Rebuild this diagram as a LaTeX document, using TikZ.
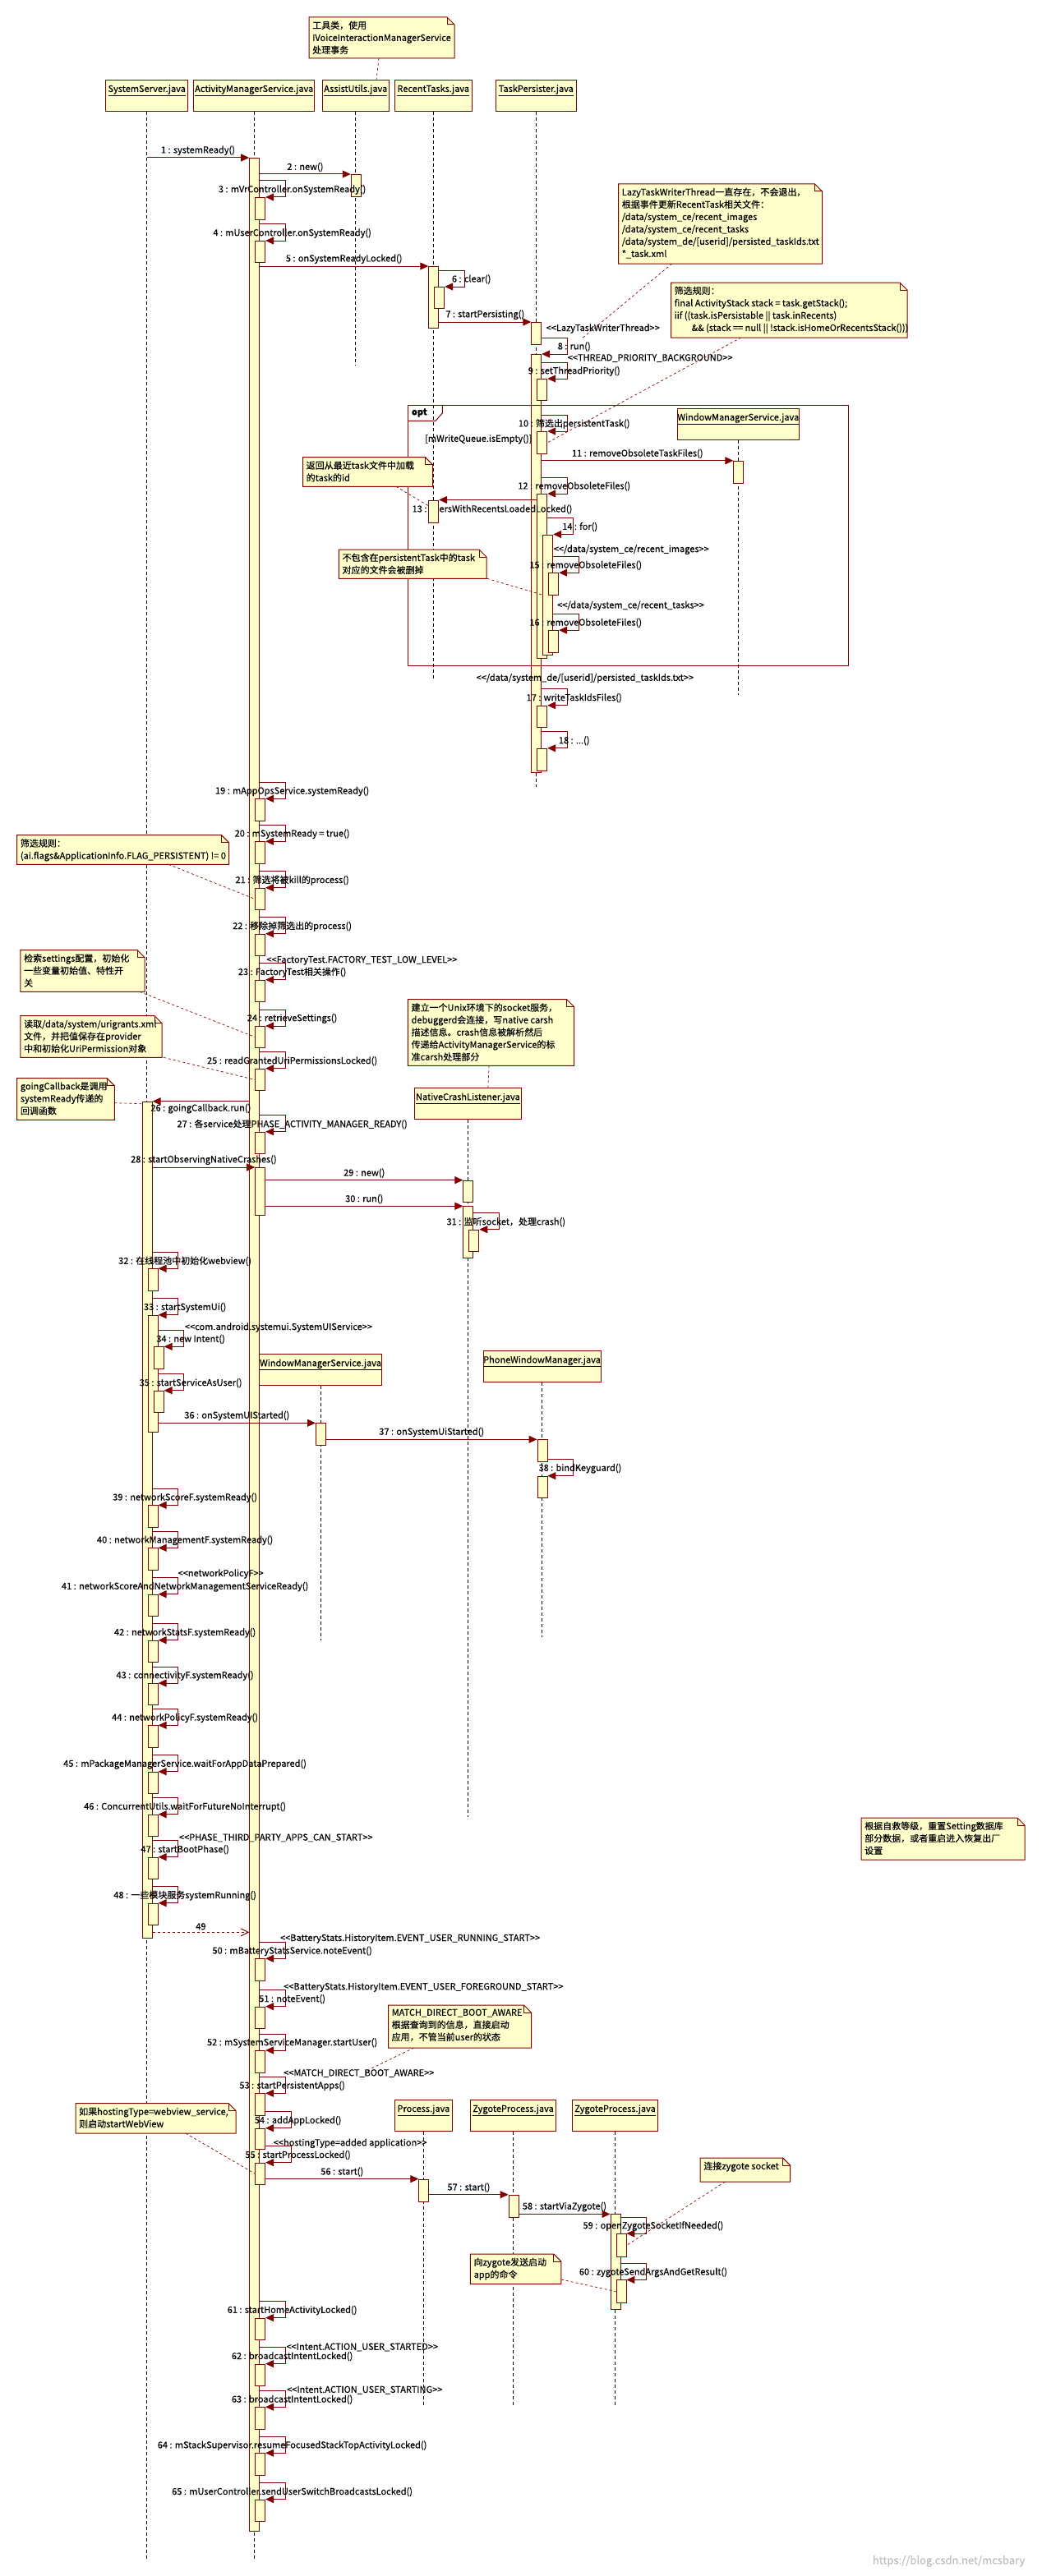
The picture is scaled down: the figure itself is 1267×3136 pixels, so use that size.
\documentclass[tikz,border=0pt]{standalone}
\usepackage{fontspec}
\setmainfont{Noto Sans CJK SC}[FakeBold=0.4]
\usetikzlibrary{arrows.meta,calc}
\definecolor{umlred}{RGB}{128,0,0}
\definecolor{umlfill}{RGB}{255,255,204}

% stereotype text
\newcommand{\stt}[1]{<\kern0pt<#1>\kern0pt>}
% activation box: name, left x, top y, bottom y
\newcommand{\actbox}[4]{\node[act, minimum height={#4-#3}] (#1) at (#2,#3) {};}
% call to the right / back to the left
\newcommand{\callmsg}[4]{\draw[msg] (#2.east |- #3.north) -- (#3.north west) node[lbl, midway, above=1.5pt] (#1) {#4};}
\newcommand{\backmsg}[4]{\draw[msg] (#2.west |- #3.north) -- (#3.north east) node[lbl, midway, below=1.5pt] (#1) {#4};}
% self call: no., source box, left x, top y, bottom y, text
\newcommand{\selfmsg}[6]{%
  \actbox{a#1}{#3}{#4}{#5}
  \draw[msg] ($(#2.east |- a#1.north)+(0,-20)$) -- ++(31,0) coordinate (t#1) |- (a#1.north east);
  \node[lbl] (m#1) at ($(t#1)+(8.5,11)$) {#6};}
% note: name, x1, y1, x2, y2, text
\newcommand{\notebox}[6]{%
  \filldraw[notebg] (#2,#3) -- ({#4-9},#3) -- (#4,{#3+9}) -- (#4,#5) -- (#2,#5) -- cycle;
  \draw[notebg, fill=none] ({#4-9},#3) |- (#4,{#3+9});
  \node[notetext] (#1) at ({#2+4},{#3+4.5}) {#6};}

\begin{document}
\begin{tikzpicture}[x=1pt, y=-1pt,
    font=\fontsize{11}{15}\selectfont,
    head/.style={rectangle, draw=umlred, fill=umlfill, line width=1pt, anchor=north, inner xsep=0pt, inner ysep=1pt, text height=13.5pt, text depth=22.5pt},
    life/.style={line width=0.9pt, dash pattern=on 4pt off 3pt},
    act/.style={rectangle, draw=umlred, fill=umlfill, line width=0.9pt, anchor=north west, minimum width=12pt, inner sep=0pt},
    msg/.style={-{Triangle[length=10pt,width=9pt]}, draw=umlred, line width=1pt},
    ret/.style={-{Straight Barb[length=9pt,width=9pt]}, draw=umlred, line width=1pt, dash pattern=on 3pt off 3pt},
    lbl/.style={inner sep=1pt, text=black},
    stereo/.style={lbl, anchor=west},
    notebg/.style={fill=umlfill, draw=umlred, line width=1pt},
    notetext/.style={anchor=north west, inner sep=0pt, align=left},
    link/.style={draw=umlred, line width=0.7pt, dash pattern=on 3pt off 3pt},
    frame/.style={rectangle, draw=umlred, line width=1pt, anchor=north west, inner sep=0pt}
]
\fill[white] (0,0) rectangle (1267,3136);
\useasboundingbox (0,0) rectangle (1267,3136);

% Lifelines
\node[head, minimum width=99.5] (ss) at (178.7,97) {\underline{SystemServer.java}};
\node[head, minimum width=147] (ams) at (309.2,97) {\underline{ActivityManagerService.java}};
\node[head, minimum width=80.5] (assist) at (432.75,97) {\underline{AssistUtils.java}};
\node[head, minimum width=94.5] (recent) at (527.25,97) {\underline{RecentTasks.java}};
\node[head, minimum width=97.6] (persister) at (652.3,97) {\underline{TaskPersister.java}};
\coordinate (ssEnd) at (178.7,3117);
\coordinate (amsEnd) at (309.2,3117);
\coordinate (assistEnd) at (432.75,445);
\coordinate (recentEnd) at (527.25,828);
\coordinate (persisterEnd) at (652.3,957.5);
\draw[life] (ss) -- (ssEnd);
\draw[life] (ams) -- (amsEnd);
\draw[life] (assist) -- (assistEnd);
\draw[life] (recent) -- (recentEnd);
\draw[life] (persister) -- (persisterEnd);

% systemReady
\actbox{a1}{303.2}{192}{3081}
\draw[msg] (ss |- a1.north) -- (a1.north west) node[lbl, midway, above=1.5pt] (m1) {1 : systemReady()};
\actbox{a2}{426.75}{212}{239}
\callmsg{m2}{a1}{a2}{2 : new()}
\selfmsg{3}{a1}{310.2}{240}{267}{3 : mVrController.onSystemReady()}
\selfmsg{4}{a1}{310.2}{293}{319}{4 : mUserController.onSystemReady()}
\actbox{a5}{521.25}{324}{399}
\callmsg{m5}{a1}{a5}{5 : onSystemReadyLocked()}
\selfmsg{6}{a5}{528.25}{349}{375}{6 : clear()}
\actbox{a7}{646.3}{392}{419}
\callmsg{m7}{a5}{a7}{7 : startPersisting()}
\node[stereo] (s8) at (663.5,400) {\stt{LazyTaskWriterThread}};
\selfmsg{8}{a7}{646.3}{431}{940}{8 : run()}
\node[stereo] (s9) at (689.6,436) {\stt{THREAD\_PRIORITY\_BACKGROUND}};
\selfmsg{9}{a8}{653.3}{461}{487}{9 : setThreadPriority()}

% opt fragment
\node[frame, minimum width=536, minimum height=317] (opt) at (496.4,492.6) {};
\draw[umlred, line width=1pt] ([yshift=-19.7pt]opt.north west) -- ++(33.6pt,0) -- ([xshift=41.9pt,yshift=-10.4pt]opt.north west) -- ([xshift=41.9pt]opt.north west);
\node[font=\fontsize{11}{15}\selectfont\bfseries] (optTag) at (510.3,502.5) {opt};
\node[stereo] (guard) at (516,534.6) {[mWriteQueue.isEmpty()]};
\selfmsg{10}{a8}{653.3}{525}{551.8}{10 : 筛选出persistentTask()}
\node[head, minimum width=148] (wms1) at (898.3,496.9) {\underline{WindowManagerService.java}};
\coordinate (wms1End) at (898.3,846);
\draw[life] (wms1) -- (wms1End);
\actbox{a11}{892.3}{560.8}{587.7}
\callmsg{m11}{a8}{a11}{11 : removeObsoleteTaskFiles()}
\selfmsg{12}{a8}{653.3}{601}{800.6}{12 : removeObsoleteFiles()}
\node[lbl] (m13) at (599,620) {13 : usersWithRecentsLoadedLocked()};
\actbox{a13}{521.25}{608.5}{636}
\draw[msg] (a12.west |- a13.north) -- (a13.north east);
\selfmsg{14}{a12}{660.3}{650.5}{797}{14 : for()}
\node[stereo] (s15) at (672.6,669.2) {\stt{/data/system\_ce/recent\_images}};
\selfmsg{15}{a14}{667.3}{697.2}{724}{15 : removeObsoleteFiles()}
\node[stereo] (s16) at (677,737.4) {\stt{/data/system\_ce/recent\_tasks}};
\selfmsg{16}{a14}{667.3}{767.2}{794}{16 : removeObsoleteFiles()}
\node[stereo] (s17) at (578.5,825.7) {\stt{/data/system\_de/[userid]/persisted\_taskIds.txt}};
\selfmsg{17}{a8}{653.3}{858.7}{885}{17 : writeTaskIdsFiles()}
\selfmsg{18}{a8}{653.3}{910.8}{937.7}{18 : ...()}

% ActivityManagerService.systemReady body
\selfmsg{19}{a1}{310.2}{972.3}{999}{19 : mAppOpsService.systemReady()}
\selfmsg{20}{a1}{310.2}{1024.3}{1051}{20 : mSystemReady = true()}
\selfmsg{21}{a1}{310.2}{1080.7}{1107.3}{21 : 筛选将被kill的process()}
\selfmsg{22}{a1}{310.2}{1136.7}{1163.3}{22 : 移除掉筛选出的process()}
\node[stereo] (s23) at (323.3,1169.3) {\stt{FactoryTest.FACTORY\_TEST\_LOW\_LEVEL}};
\selfmsg{23}{a1}{310.2}{1192.7}{1219.3}{23 : FactoryTest相关操作()}
\selfmsg{24}{a1}{310.2}{1249}{1275}{24 : retrieveSettings()}
\selfmsg{25}{a1}{310.2}{1300.7}{1327.3}{25 : readGrantedUriPermissionsLocked()}
\actbox{a26}{172.7}{1340.7}{2359.3}
\backmsg{m26}{a1}{a26}{26 : goingCallback.run()}
\selfmsg{27}{a1}{310.2}{1377.7}{1404.3}{27 : 各service处理PHASE\_ACTIVITY\_MANAGER\_READY()}
\node[head, minimum width=130.2] (ncl) at (569.4,1324.3) {\underline{NativeCrashListener.java}};
\coordinate (nclEnd) at (569.4,2211.7);
\draw[life] (ncl) -- (nclEnd);
\actbox{a28}{310.2}{1421}{1479.3}
\callmsg{m28}{a26}{a28}{28 : startObservingNativeCrashes()}
\actbox{a29}{563.4}{1436.7}{1463.3}
\callmsg{m29}{a28}{a29}{29 : new()}
\actbox{a30}{563.4}{1468.3}{1531}
\callmsg{m30}{a28}{a30}{30 : run()}
\selfmsg{31}{a30}{570.4}{1496.7}{1523.3}{31 : 监听socket，处理crash()}

% goingCallback
\selfmsg{32}{a26}{179.7}{1544.3}{1570.7}{32 : 在线程池中初始化webview()}
\selfmsg{33}{a26}{179.7}{1600.7}{1743.3}{33 : startSystemUi()}
\node[stereo] (s34) at (223.8,1616) {\stt{com.android.systemui.SystemUIService}};
\selfmsg{34}{a33}{186.7}{1639.3}{1666}{34 : new Intent()}
\node[head, minimum width=148.3] (wms2) at (390,1648.3) {\underline{WindowManagerService.java}};
\node[head, minimum width=143] (pwm) at (659.5,1644.3) {\underline{PhoneWindowManager.java}};
\coordinate (wms2End) at (390,1996.7);
\coordinate (pwmEnd) at (659.5,1993.3);
\draw[life] (wms2) -- (wms2End);
\draw[life] (pwm) -- (pwmEnd);
\selfmsg{35}{a33}{186.7}{1692.7}{1719.3}{35 : startServiceAsUser()}
\actbox{a36}{384}{1732.3}{1759.3}
\callmsg{m36}{a33}{a36}{36 : onSystemUIStarted()}
\actbox{a37}{653.5}{1752.3}{1779.3}
\callmsg{m37}{a36}{a37}{37 : onSystemUiStarted()}
\selfmsg{38}{a37}{653.5}{1796.7}{1823.3}{38 : bindKeyguard()}
\selfmsg{39}{a26}{179.7}{1832.3}{1859.3}{39 : networkScoreF.systemReady()}
\selfmsg{40}{a26}{179.7}{1884.3}{1911}{40 : networkManagementF.systemReady()}
\node[stereo] (s41) at (215.5,1916) {\stt{networkPolicyF}};
\selfmsg{41}{a26}{179.7}{1940.7}{1967.3}{41 : networkScoreAndNetworkManagementServiceReady()}
\selfmsg{42}{a26}{179.7}{1996.7}{2023.3}{42 : networkStatsF.systemReady()}
\selfmsg{43}{a26}{179.7}{2049}{2075}{43 : connectivityF.systemReady()}
\selfmsg{44}{a26}{179.7}{2100.3}{2127}{44 : networkPolicyF.systemReady()}
\selfmsg{45}{a26}{179.7}{2156.7}{2183.3}{45 : mPackageManagerService.waitForAppDataPrepared()}
\selfmsg{46}{a26}{179.7}{2208.7}{2235.3}{46 : ConcurrentUtils.waitForFutureNoInterrupt()}
\node[stereo] (s47) at (216.8,2237.3) {\stt{PHASE\_THIRD\_PARTY\_APPS\_CAN\_START}};
\selfmsg{47}{a26}{179.7}{2260.7}{2287.3}{47 : startBootPhase()}
\selfmsg{48}{a26}{179.7}{2316.7}{2343.3}{48 : 一些模块服务systemRunning()}
\coordinate (r49) at (244,2352.3);
\draw[ret] (a26.east |- r49) -- (a1.west |- r49) node[lbl, midway, above=1.5pt] (m49) {49};

% user start
\node[stereo] (s50) at (339.9,2360) {\stt{BatteryStats.HistoryItem.EVENT\_USER\_RUNNING\_START}};
\selfmsg{50}{a1}{310.2}{2384.3}{2411}{50 : mBatteryStatsService.noteEvent()}
\node[stereo] (s51) at (344,2419.3) {\stt{BatteryStats.HistoryItem.EVENT\_USER\_FOREGROUND\_START}};
\selfmsg{51}{a1}{310.2}{2442.7}{2469.3}{51 : noteEvent()}
\selfmsg{52}{a1}{310.2}{2496}{2522.7}{52 : mSystemServiceManager.startUser()}
\node[stereo] (s53) at (344,2524) {\stt{MATCH\_DIRECT\_BOOT\_AWARE}};
\selfmsg{53}{a1}{310.2}{2548.3}{2575}{53 : startPersistentApps()}
\selfmsg{54}{a53}{310.2}{2590.7}{2615.5}{54 : addAppLocked()}
\node[stereo] (s55) at (331.6,2609.3) {\stt{hostingType=added application}};
\selfmsg{55}{a54}{310.2}{2632.6}{2659}{55 : startProcessLocked()}
\node[head, minimum width=70.4] (proc) at (515.4,2556) {\underline{Process.java}};
\node[head, minimum width=104.2] (zp1) at (624.5,2556) {\underline{ZygoteProcess.java}};
\node[head, minimum width=104.2] (zp2) at (748.5,2556) {\underline{ZygoteProcess.java}};
\coordinate (procEnd) at (515.4,2929);
\coordinate (zp1End) at (624.5,2929);
\coordinate (zp2End) at (748.5,2929);
\draw[life] (proc) -- (procEnd);
\draw[life] (zp1) -- (zp1End);
\draw[life] (zp2) -- (zp2End);
\actbox{a56}{509.4}{2652.6}{2679.7}
\callmsg{m56}{a55}{a56}{56 : start()}
\actbox{a57}{618.5}{2671.7}{2699.3}
\callmsg{m57}{a56}{a57}{57 : start()}
\actbox{a58}{742.5}{2695.4}{2811}
\callmsg{m58}{a57}{a58}{58 : startViaZygote()}
\selfmsg{59}{a58}{749.5}{2719}{2747}{59 : openZygoteSocketIfNeeded()}
\selfmsg{60}{a58}{749.5}{2775.4}{2803}{60 : zygoteSendArgsAndGetResult()}
\selfmsg{61}{a1}{310.2}{2821.6}{2848}{61 : startHomeActivityLocked()}
\node[stereo] (s62) at (347.4,2857.4) {\stt{Intent.ACTION\_USER\_STARTED}};
\selfmsg{62}{a1}{310.2}{2877.6}{2904.4}{62 : broadcastIntentLocked()}
\node[stereo] (s63) at (348,2909.6) {\stt{Intent.ACTION\_USER\_STARTING}};
\selfmsg{63}{a1}{310.2}{2930.2}{2957.4}{63 : broadcastIntentLocked()}
\selfmsg{64}{a1}{310.2}{2986.2}{3013}{64 : mStackSupervisor.resumeFocusedStackTopActivityLocked()}
\selfmsg{65}{a1}{310.2}{3042.6}{3069.4}{65 : mUserController.sendUserSwitchBroadcastsLocked()}

% Note links
\coordinate (k1) at (461,71);
\coordinate (k2) at (817.7,321);
\coordinate (k2e) at (707,413);
\coordinate (k3) at (901.8,411);
\coordinate (k4) at (482,592.3);
\coordinate (k5) at (592.7,704.3);
\coordinate (k6) at (205,1052.3);
\coordinate (k7) at (170,1207.3);
\coordinate (k8) at (199,1287.3);
\coordinate (k9) at (139.3,1342.7);
\coordinate (k10) at (595,1297.3);
\coordinate (k11) at (503.6,2493);
\coordinate (k11e) at (452,2518);
\coordinate (k12) at (226,2597);
\coordinate (k13) at (882.4,2656);
\coordinate (k14) at (682.9,2775);
\draw[link] (k1) -- ([xshift=25.3pt]assist.north);
\draw[link] (k2) -- (k2e);
\draw[link] (k3) -- (a10.east);
\draw[link] (k4) -- ([yshift=7pt]a13.west);
\draw[link] (k5) -- (a14.west);
\draw[link] (k6) -- (a21.west);
\draw[link] (k7) -- (a24.west);
\draw[link] (k8) -- (a25.west);
\draw[link] (k9) -- ([yshift=-3pt]a26.north west);
\draw[link] (k10) -- ([xshift=24.4pt]ncl.north);
\draw[link] (k11) -- (k11e);
\draw[link] (k12) -- (a55.west);
\draw[link] (k13) -- (a59.east);
\draw[link] (k14) -- (a60.west);

% Notes
\notebox{nTool}{376}{21}{553}{71}{工具类，使用\\IVoiceInteractionManagerService\\处理事务}
\notebox{nLazy}{752.6}{224}{1000.5}{321}{LazyTaskWriterThread一直存在，不会退出，\\根据事件更新RecentTask相关文件：\\/data/system\_ce/recent\_images\\/data/system\_ce/recent\_tasks\\/data/system\_de/[userid]/persisted\_taskIds.txt\\{}*\_task.xml}
\notebox{nRule}{816.5}{344}{1104}{411}{筛选规则：\\final ActivityStack stack = task.getStack();\\iif ((task.isPersistable || task.inRecents)\\\hspace*{21pt}\&\& (stack == null || !stack.isHomeOrRecentsStack()))}
\notebox{nLoaded}{368.5}{556.7}{526.5}{592.3}{返回从最近task文件中加载\\的task的id}
\notebox{nDelete}{412.4}{669}{592}{704.3}{不包含在persistentTask中的task\\对应的文件会被删掉}
\notebox{nPers}{20.7}{1016.7}{278.5}{1052.3}{筛选规则：\\(ai.flags\&ApplicationInfo.FLAG\_PERSISTENT) != 0}
\notebox{nSettings}{24.9}{1156.7}{176.2}{1207.3}{检索settings配置，初始化\\一些变量初始值、特性开\\关}
\notebox{nUri}{24.9}{1236.7}{197}{1287.3}{读取/data/system/urigrants.xml\\文件，并把值保存在provider\\中和初始化UriPermission对象}
\notebox{nCallback}{20.7}{1312.7}{139.3}{1363.3}{goingCallback是调用\\systemReady传递的\\回调函数}
\notebox{nCrash}{496.4}{1216.7}{698.7}{1297.3}{建立一个Unix环境下的socket服务，\\debuggerd会连接，写native carsh\\描述信息。crash信息被解析然后\\传递给ActivityManagerService的标\\准carsh处理部分}
\notebox{nBoot}{472.5}{2441}{646.5}{2493}{MATCH\_DIRECT\_BOOT\_AWARE\\根据查询到的信息，直接启动\\应用，不管当前user的状态}
\notebox{nWeb}{92}{2560.7}{287.2}{2597}{如果hostingType=webview\_service,\\则启动startWebView}
\notebox{nRescue}{1048}{2213}{1247}{2264}{根据自救等级，重置Setting数据库\\部分数据，或者重启进入恢复出厂\\设置}
\notebox{nZsock}{852.2}{2627}{961.6}{2656}{连接zygote socket}
\notebox{nZcmd}{572.4}{2744}{682.9}{2780.6}{向zygote发送启动\\app的命令}

\node[text=black!25, font=\fontsize{13}{15}\selectfont] (wm) at (1154.6,3118) {https://blog.csdn.net/mcsbary};
\end{tikzpicture}
\end{document}
